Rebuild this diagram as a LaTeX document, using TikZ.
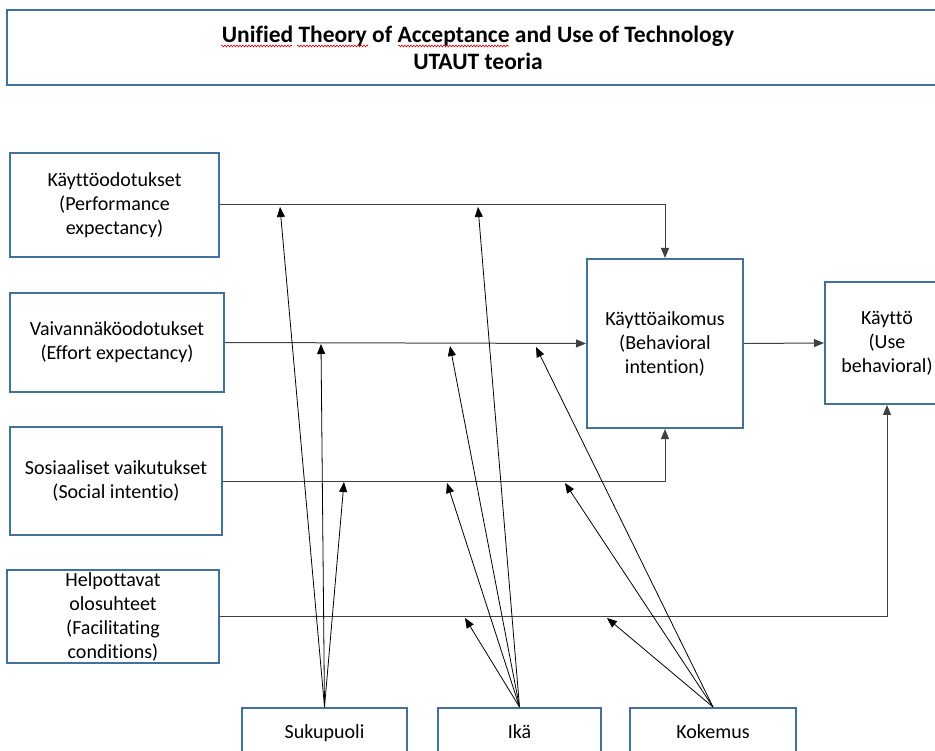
\documentclass[tikz,border=0pt]{standalone}
\usepackage{fontspec}
\setmainfont{Carlito}[Ligatures=NoCommon]
\usetikzlibrary{arrows.meta,decorations.pathmorphing}
\definecolor{boxblue}{HTML}{41719C}
\definecolor{linegray}{HTML}{404040}

\begin{document}
\begin{tikzpicture}[x=1pt,y=-1pt,
    box/.style={draw=boxblue,line width=2pt,fill=white,inner sep=0pt,align=center,
      font=\fontsize{20}{24}\selectfont},
    modbox/.style={box,minimum height=47pt,text height=18pt,text depth=5pt},
    arr/.style={-{Triangle[length=10pt,width=8pt]},draw=linegray,line width=1pt},
    mod/.style={-{Triangle[length=10pt,width=8pt]},draw=black,line width=0.8pt},
    squig/.style={draw=red!80!black,line width=0.6pt,decorate,
      decoration={snake,segment length=3pt,amplitude=0.9pt}}]
        \useasboundingbox (0,0) rectangle (935,751);
        \fill [white] (0,0) rectangle (935,751);

        % title
        \node [box,minimum width=942pt,minimum height=75pt,
          font=\fontsize{23.5}{27}\selectfont\bfseries] (title) at (478,47.5)
          {Unified Theory of Acceptance and Use of Technology\\UTAUT teoria};
        \draw [squig] (221,46) -- (292,46);
        \draw [squig] (297,46) -- (368,46);
        \draw [squig] (398,46) -- (509,46);

        % determinants
        \node [box,minimum width=209pt,minimum height=104pt] (pe) at (114.5,205)
          {Käyttöodotukset\\(Performance\\expectancy)};
        \node [box,minimum width=214pt,minimum height=99pt] (ee) at (117,342.5)
          {Vaivannäköodotukset\\(Effort expectancy)};
        \node [box,minimum width=212pt,minimum height=108pt] (si) at (116,481)
          {Sosiaaliset vaikutukset\\(Social intentio)};
        \node [box,minimum width=212pt,minimum height=93pt] (fc) at (113,616.5)
          {Helpottavat\\olosuhteet\\(Facilitating\\conditions)};

        % intention and use
        \node [box,minimum width=156pt,minimum height=169pt] (bi) at (665,343.5)
          {Käyttöaikomus\\(Behavioral\\intention)};
        \node [box,minimum width=124pt,minimum height=122pt] (use) at (887,343)
          {Käyttö\\(Use\\behavioral)};

        % moderators
        \node [modbox,minimum width=165pt] (suku) at (324.5,731.5) {Sukupuoli};
        \node [modbox,minimum width=163pt] (ika) at (519.5,731.5) {Ikä};
        \node [modbox,minimum width=166pt] (koke) at (713,731.5) {Kokemus};

        % main paths
        \draw [arr] (pe.east) -| (bi.north);
        \draw [arr] (ee.east) -- (bi.west);
        \draw [arr] (si.east) -| (bi.south);
        \draw [arr] (fc.east) -| (use.south);
        \draw [arr] (bi.east) -- (use.west);

        % points on the paths
        \coordinate (s1) at (280,207);
        \coordinate (a1) at (478,207);
        \coordinate (s2) at (321,344);
        \coordinate (a2) at (450,346);
        \coordinate (k2) at (536,347);
        \coordinate (s3) at (344,482);
        \coordinate (a3) at (447,483);
        \coordinate (k3) at (565,483);
        \coordinate (a4) at (465,618);
        \coordinate (k4) at (607,618);

        \foreach \p in {s1,s2,s3} \draw [mod] (suku.north) -- (\p);
        \foreach \p in {a1,a2,a3,a4} \draw [mod] (ika.north) -- (\p);
        \foreach \p in {k2,k3,k4} \draw [mod] (koke.north) -- (\p);
      \end{tikzpicture}
\end{document}
